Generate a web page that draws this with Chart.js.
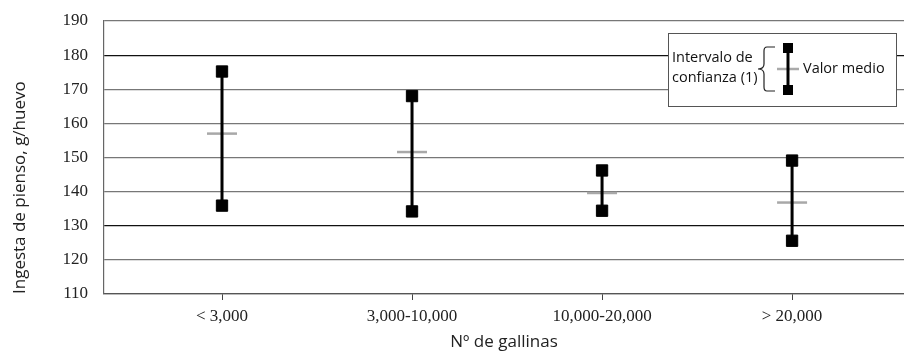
<!DOCTYPE html>
<html>
<head>
<meta charset="utf-8">
<script src="https://cdn.jsdelivr.net/npm/chart.js@4/dist/chart.umd.min.js"></script>
<style>
  html, body { margin: 0; padding: 0; background: #fff; overflow: hidden; }
  #wrap { width: 904px; height: 352px; position: relative; }
  canvas { display: block; }
</style>
</head>
<body>
<div id="wrap"><canvas id="chart"></canvas></div>
<script>
// datos
const categories = ['< 3,000', '3,000-10,000', '10,000-20,000', '> 20,000'];
const lowValues  = [135.9, 134.2, 134.4, 125.6];
const highValues = [175.2, 168.0, 146.2, 149.1];
const meanValues = [157.0, 151.6, 139.6, 136.8];
const yTicks = [110, 120, 130, 140, 150, 160, 170, 180, 190];

// linea del intervalo: dos puntos por categoria, cortada con null
const ciLine = [];
categories.forEach((c, i) => {
    ciLine.push({ x: i, y: lowValues[i] });
    ciLine.push({ x: i, y: highValues[i] });
    ciLine.push({ x: i, y: null });
});
const ends = [];
categories.forEach((c, i) => {
    ends.push({ x: i, y: lowValues[i] });
    ends.push({ x: i, y: highValues[i] });
});
const means = meanValues.map((v, i) => ({ x: i, y: v }));

const SANS = "'Open Sans', 'Noto Sans', sans-serif";
const SERIF = "'Liberation Serif', 'DejaVu Serif', serif";

// leyenda dibujada a mano (caja arriba a la derecha)
const legendBox = {
    id: 'legendBox',
    afterDraw(chart) {
        const ctx = chart.ctx;
        ctx.save();
        ctx.fillStyle = '#fff';
        ctx.fillRect(668, 33, 229, 74);
        ctx.strokeStyle = '#555';
        ctx.lineWidth = 1;
        ctx.strokeRect(668.5, 33.5, 228, 73);

        ctx.fillStyle = '#111';
        ctx.font = '14.5px ' + SANS;
        ctx.textBaseline = 'middle';
        ctx.textAlign = 'left';
        ctx.fillText('Intervalo de', 672, 58);
        ctx.fillText('confianza (1)', 672, 78);
        ctx.fillText('Valor medio', 803, 69);

        // llave
        ctx.strokeStyle = '#222';
        ctx.lineWidth = 1.2;
        ctx.beginPath();
        ctx.moveTo(775, 47);
        ctx.lineTo(767, 47);
        ctx.quadraticCurveTo(764, 47, 764, 51);
        ctx.lineTo(764, 64);
        ctx.quadraticCurveTo(764, 69, 758, 69);
        ctx.quadraticCurveTo(764, 69, 764, 74);
        ctx.lineTo(764, 87);
        ctx.quadraticCurveTo(764, 91, 767, 91);
        ctx.lineTo(775, 91);
        ctx.stroke();

        // simbolo
        ctx.strokeStyle = '#aaa';
        ctx.lineWidth = 2.5;
        ctx.beginPath();
        ctx.moveTo(777, 69);
        ctx.lineTo(799, 69);
        ctx.stroke();
        ctx.strokeStyle = '#000';
        ctx.lineWidth = 3;
        ctx.beginPath();
        ctx.moveTo(788, 48);
        ctx.lineTo(788, 90);
        ctx.stroke();
        ctx.fillStyle = '#000';
        ctx.fillRect(783, 43, 10, 10);
        ctx.fillRect(783, 85, 10, 10);
        ctx.restore();
    }
};

new Chart(document.getElementById('chart'), {
    type: 'scatter',
    data: {
        datasets: [
            {
                type: 'line',
                data: ciLine,
                borderColor: '#000',
                borderWidth: 3,
                pointRadius: 0,
                spanGaps: false,
                order: 2
            },
            {
                data: ends,
                pointStyle: 'rect',
                pointRadius: 8,
                backgroundColor: '#000',
                borderColor: '#000',
                borderWidth: 1,
                order: 1
            },
            {
                data: means,
                pointStyle: 'line',
                pointRadius: 15,
                borderColor: '#a8a8a8',
                borderWidth: 2.5,
                order: 3
            }
        ]
    },
    options: {
        responsive: true,
        maintainAspectRatio: false,
        animation: false,
        layout: { autoPadding: false, padding: { top: 21, left: 0, right: 0, bottom: 0 } },
        plugins: { legend: { display: false }, tooltip: { enabled: false } },
        scales: {
            x: {
                type: 'linear',
                min: -0.621,
                max: 3.589,
                afterBuildTicks: s => { s.ticks = categories.map((c, i) => ({ value: i })); },
                afterFit: s => { s.height = 58; s.paddingLeft = 0; s.paddingRight = 0; },
                grid: { drawOnChartArea: false, drawTicks: true, tickLength: 6, color: '#444' },
                border: { color: '#555', width: 1.2 },
                ticks: {
                    callback: v => categories[v],
                    font: { family: SERIF, size: 17 },
                    color: '#222',
                    padding: 6,
                    maxRotation: 0
                },
                title: {
                    display: true,
                    text: 'Nº de gallinas',
                    font: { family: SANS, size: 17 },
                    color: '#222',
                    padding: { top: 0, bottom: 0 }
                }
            },
            y: {
                min: 110,
                max: 190,
                afterBuildTicks: s => { s.ticks = yTicks.map(v => ({ value: v })); },
                afterFit: s => { s.width = 104; s.paddingTop = 0; s.paddingBottom = 0; },
                grid: {
                    drawTicks: false,
                    lineWidth: 1.2,
                    color: c => (c.tick && (c.tick.value === 180 || c.tick.value === 130)) ? '#111' : '#777'
                },
                border: { color: '#666', width: 1.2 },
                ticks: {
                    font: { family: SERIF, size: 17 },
                    color: '#222',
                    padding: 16
                },
                title: {
                    display: true,
                    text: 'Ingesta de pienso, g/huevo',
                    align: 'start',
                    font: { family: SANS, size: 17 },
                    color: '#222',
                    padding: { top: 10, bottom: 0 }
                }
            }
        }
    },
    plugins: [legendBox]
});
</script>
</body>
</html>
